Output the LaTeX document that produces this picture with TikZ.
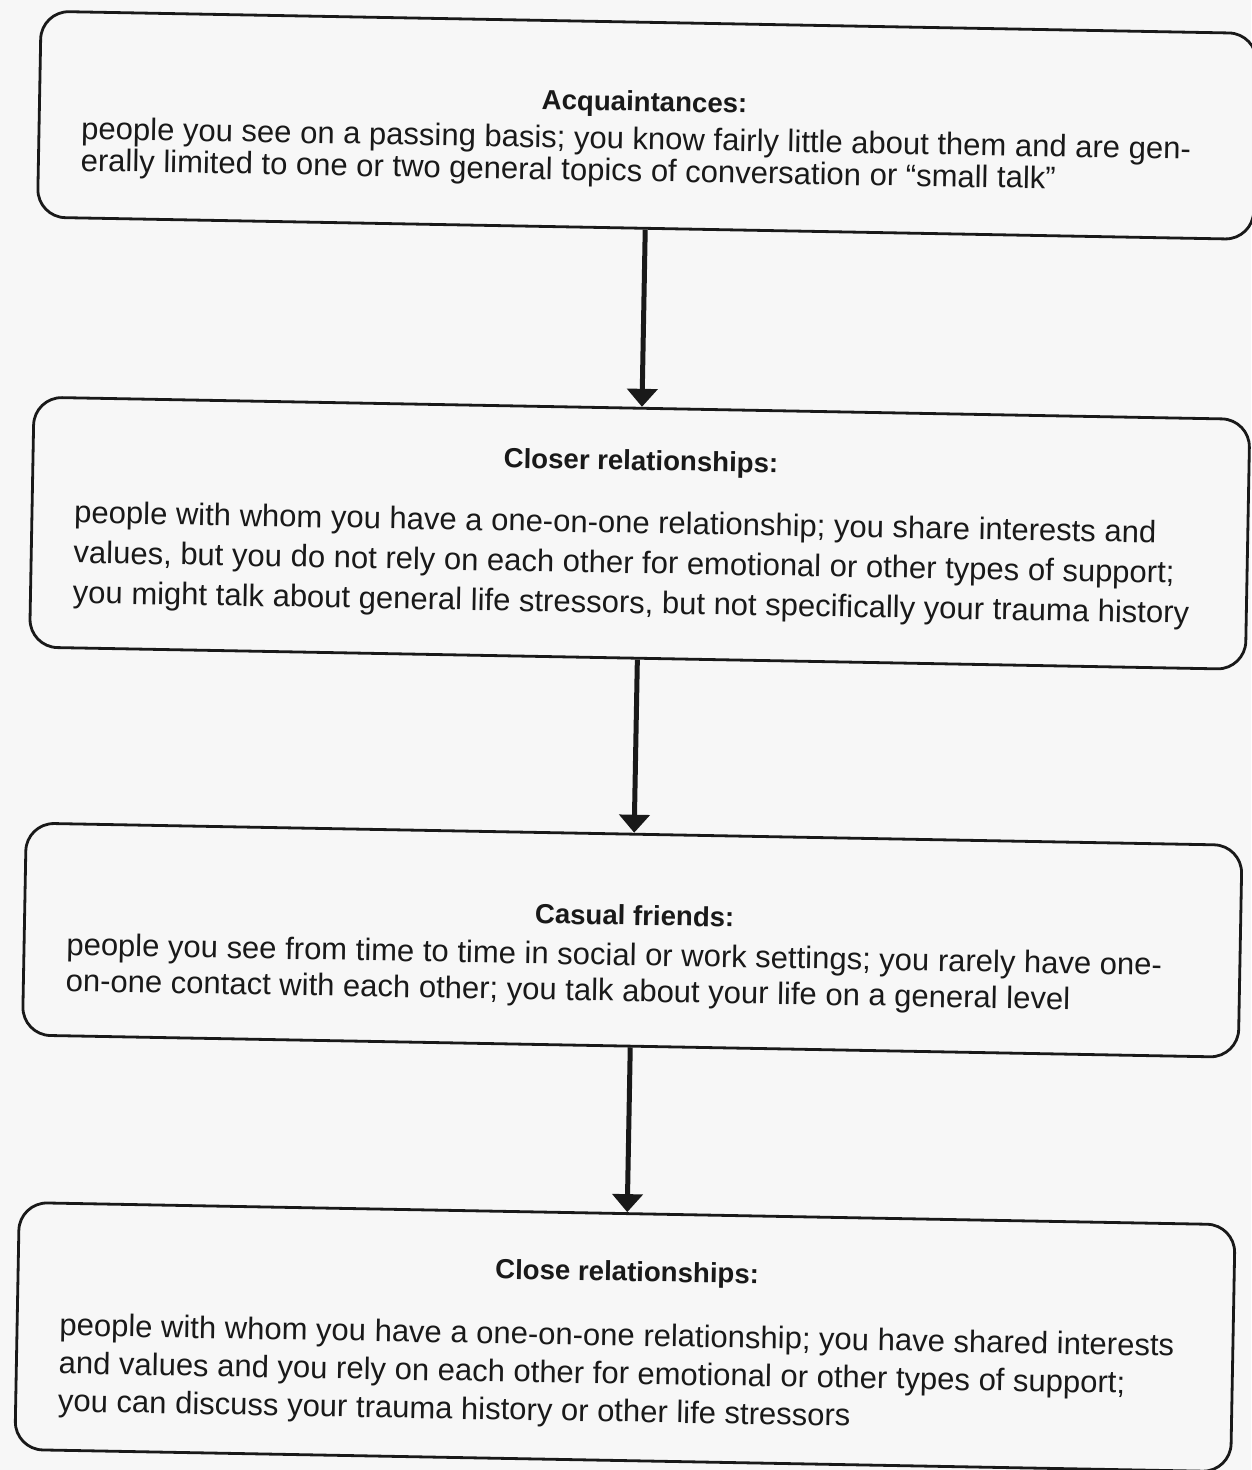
\documentclass[tikz,border=0pt]{standalone}
\usepackage{fontspec}
\setmainfont{Liberation Sans}
\usetikzlibrary{arrows.meta}
\begin{document}
\begin{tikzpicture}[x=0.5pt,y=0.5pt,
  box/.style={draw=black!90, line width=1.4pt, rounded corners=14pt, minimum width=608pt, inner sep=0pt, fill=black!3},
  ttl/.style={font=\fontsize{13.8}{16}\selectfont\bfseries, inner sep=0pt, anchor=base, text=black!90},
  body/.style={font=\fontsize{15.5}{#1}\selectfont, align=left, inner sep=0pt, anchor=north west, text=black!90},
  flow/.style={draw=black!90, line width=2.5pt, -{Triangle[width=15pt,length=9pt]}}]
\fill[black!3] (0,0) rectangle (1251,-1470);
\useasboundingbox (0,0) rectangle (1251,-1470);
\begin{scope}[rotate around={-1.05:(625,-735)}, transform shape]
% boxes
\node[box, minimum height=103pt] (b1) at (636,-125) {};
\node[box, minimum height=125pt] (b2) at (636,-533) {};
\node[box, minimum height=106pt] (b3) at (636,-940) {};
\node[box, minimum height=123.5pt] (b4) at (636,-1337) {};
% titles
\node[ttl] (t1) at (633,-111) {Acquaintances:};
\node[ttl] (t2) at (636,-470) {Closer relationships:};
\node[ttl] (t3) at (638,-925) {Casual friends:};
\node[ttl] (t4) at (637,-1281) {Close relationships:};
% bodies
\node[body=16pt] (x1) at (70,-108.7) {\rule{0pt}{20pt}people you see on a passing basis; you know fairly little about them and are gen-\\
erally limited to one or two general topics of conversation or “small talk”};
\node[body=20pt] (x2) at (70,-492.7) {\rule{0pt}{20pt}people with whom you have a one-on-one relationship; you share interests and\\
values, but you do not rely on each other for emotional or other types of support;\\
you might talk about general life stressors, but not specifically your trauma history};
\node[body=18pt] (x3) at (70,-925) {\rule{0pt}{20pt}people you see from time to time in social or work settings; you rarely have one-\\
on-one contact with each other; you talk about your life on a general level};
\node[body=19pt] (x4) at (70,-1305.5) {\rule{0pt}{20pt}people with whom you have a one-on-one relationship; you have shared interests\\
and values and you rely on each other for emotional or other types of support;\\
you can discuss your trauma history or other life stressors};
% arrows
\draw[flow] (b1.south) -- (b2.north);
\draw[flow] (b2.south) -- (b3.north);
\draw[flow] (b3.south) -- (b4.north);
\end{scope}
\end{tikzpicture}
\end{document}
